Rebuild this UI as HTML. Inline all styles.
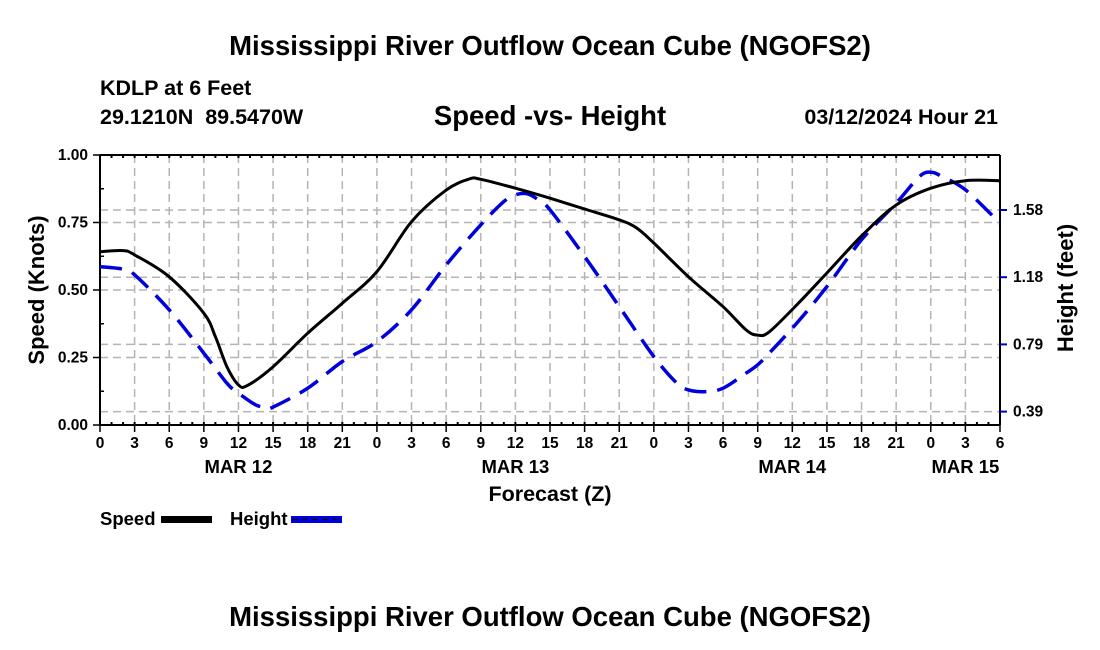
<!DOCTYPE html>
<html><head><meta charset="utf-8">
<style>
html,body{margin:0;padding:0;background:#fff;}
svg{display:block;font-family:"Liberation Sans",Arial,sans-serif;font-weight:bold;}
</style></head>
<body>
<svg id="chart" width="1100" height="650" viewBox="0 0 1100 650" xmlns="http://www.w3.org/2000/svg">
<rect width="1100" height="650" fill="#fff"/>
<text x="550" y="55" text-anchor="middle" font-size="27.5">Mississippi River Outflow Ocean Cube (NGOFS2)</text>
<text x="100" y="95" font-size="21.5">KDLP at 6 Feet</text>
<text x="100" y="124" font-size="21.5">29.1210N&#160; 89.5470W</text>
<text x="550" y="125" text-anchor="middle" font-size="27.5">Speed -vs- Height</text>
<text x="998" y="124" text-anchor="end" font-size="21.5">03/12/2024 Hour 21</text>
<g id="grid"></g>
<g id="axes"></g>
<g id="series"></g>
<text transform="translate(44,290) rotate(-90)" text-anchor="middle" font-size="22">Speed (Knots)</text>
<text transform="translate(1073,288) rotate(-90)" text-anchor="middle" font-size="22">Height (feet)</text>
<text x="550" y="501" text-anchor="middle" font-size="21.5">Forecast (Z)</text>
<g>
<text x="100" y="525" font-size="18.5">Speed</text>
<rect x="161" y="516" width="51" height="7" fill="#000"/>
<text x="230" y="525" font-size="18.5">Height</text>
<rect x="291" y="516" width="51" height="7" fill="#0000dd"/>
<line x1="292" y1="519.5" x2="341" y2="519.5" stroke="#000" stroke-width="1" stroke-dasharray="6,4"/>
</g>
<text x="550" y="626" text-anchor="middle" font-size="27.5">Mississippi River Outflow Ocean Cube (NGOFS2)</text>
</svg>
<script>
const speedHours = [0,2,3,6,9,10,11,12,12.8,15,18,21,24,27,30,32,33,36,39,42,45,46.5,48,51,54,56,57,58,60.5,63,66,69,72,75,78];
const speedValues = [0.642,0.646,0.63,0.549,0.414,0.327,0.216,0.148,0.147,0.216,0.34,0.451,0.568,0.753,0.87,0.911,0.91,0.877,0.84,0.80,0.76,0.73,0.674,0.549,0.438,0.352,0.333,0.345,0.45,0.563,0.70,0.815,0.877,0.905,0.905];
const heightHours = [0,2,3,6,9,11,12,13.5,14.5,15,18,21,24,27,30,33,35,36,37,38,39,42,45,48,50,51,52.5,54,56,57,58,60.5,63,66,69,71,72,73,75,78];
const heightValues = [1.243,1.228,1.195,0.99,0.736,0.56,0.502,0.433,0.417,0.42,0.531,0.687,0.804,0.99,1.253,1.488,1.624,1.663,1.67,1.634,1.576,1.302,1.009,0.716,0.56,0.521,0.511,0.531,0.619,0.668,0.736,0.921,1.126,1.40,1.615,1.77,1.796,1.77,1.693,1.498];
const xTickLabels = ["0","3","6","9","12","15","18","21","0","3","6","9","12","15","18","21","0","3","6","9","12","15","18","21","0","3","6"];
const dayLabels = ["MAR 12","MAR 13","MAR 14","MAR 15"];
const dayLabelHours = [12,36,60,75];
const speedTicks = [0,0.25,0.5,0.75,1.0];
const heightTicks = [0.3937,0.7874,1.1811,1.5748];
const heightTickLabels = ["0.39","0.79","1.18","1.58"];

const L=100,R=1000,T=155,B=425;
const xMax=78, hMin=0.3152, hMax=1.897;
const x = h => L + h/xMax*(R-L);
const yS = v => B - v*(B-T);
const yH = v => B - (v-hMin)/(hMax-hMin)*(B-T);
const NS="http://www.w3.org/2000/svg";
function mk(tag, attrs, parent){const e=document.createElementNS(NS,tag);for(const k in attrs)e.setAttribute(k,attrs[k]);parent.appendChild(e);return e;}
const grid=document.getElementById('grid'), axes=document.getElementById('axes'), series=document.getElementById('series');

for(let i=1;i<xTickLabels.length-1;i++){
  const g=mk('line',{x1:x(i*3),x2:x(i*3),y1:T,y2:B,stroke:'#b4b4b4','stroke-width':1.5,'stroke-dasharray':'8,5'},grid);
  
  
}
speedTicks.slice(1,-1).forEach(v=>{
  const g=mk('line',{x1:L,x2:R,y1:yS(v),y2:yS(v),stroke:'#b4b4b4','stroke-width':1.5,'stroke-dasharray':'8,5'},grid);
  
  
});
heightTicks.forEach(v=>{
  const g=mk('line',{x1:L,x2:R,y1:yH(v),y2:yH(v),stroke:'#b4b4b4','stroke-width':1.5,'stroke-dasharray':'8,5'},grid);
  
  
});

[[L,T,R,T],[L,B,R,B],[L,T,L,B],[R,T,R,B]].forEach(a=>{
  const l=mk('line',{x1:a[0],y1:a[1],x2:a[2],y2:a[3],stroke:'#000','stroke-width':2},axes);
  
  
});
for(let h=1;h<xMax;h++){
  const t1=mk('line',{x1:x(h),x2:x(h),y1:T,y2:T+3,stroke:'#000','stroke-width':2},axes);
  
  
  const t2=mk('line',{x1:x(h),x2:x(h),y1:B-3,y2:B,stroke:'#000','stroke-width':2},axes);
  
  
}
xTickLabels.forEach((lab,i)=>{
  const tk=mk('line',{x1:x(i*3),x2:x(i*3),y1:B,y2:B+7,stroke:'#000','stroke-width':1.5},axes);
  
  
  const t=mk('text',{x:x(i*3),y:B+23,'text-anchor':'middle','font-size':15.5},axes);
  t.textContent=lab;
  
  
});
dayLabels.forEach((d,i)=>{
  const t=mk('text',{x:x(dayLabelHours[i]),y:473,'text-anchor':'middle','font-size':18.5},axes);
  t.textContent=d;
  
  
});
speedTicks.forEach(v=>{
  const tk=mk('line',{x1:L-7,x2:L,y1:yS(v),y2:yS(v),stroke:'#000','stroke-width':1.5},axes);
  
  
  const t=mk('text',{x:L-12,y:yS(v)+5,'text-anchor':'end','font-size':15.5},axes);
  t.textContent=v.toFixed(2);
  
  
});
for(let v=0.125;v<1;v+=0.25){
  const tk=mk('line',{x1:L,x2:L+4,y1:yS(v),y2:yS(v),stroke:'#000','stroke-width':1.5},axes);
  
  
}
heightTicks.forEach((v,i)=>{
  const tk=mk('line',{x1:R,x2:R+7,y1:yH(v),y2:yH(v),stroke:'#0000cc','stroke-width':2},axes);
  
  
  const t=mk('text',{x:R+13,y:yH(v)+5,'font-size':15.5},axes);
  t.textContent=heightTickLabels[i];
  
  
});

function smoothPath(pts){
  let d=`M${pts[0][0].toFixed(1)},${pts[0][1].toFixed(1)}`;
  for(let i=0;i<pts.length-1;i++){
    const p0=pts[i-1]||pts[i],p1=pts[i],p2=pts[i+1],p3=pts[i+2]||p2;
    const c1=[p1[0]+(p2[0]-p0[0])/6,p1[1]+(p2[1]-p0[1])/6];
    const c2=[p2[0]-(p3[0]-p1[0])/6,p2[1]-(p3[1]-p1[1])/6];
    d+=`C${c1[0].toFixed(1)},${c1[1].toFixed(1)} ${c2[0].toFixed(1)},${c2[1].toFixed(1)} ${p2[0].toFixed(1)},${p2[1].toFixed(1)}`;
  }
  return d;
}
const hp=mk('path',{d:smoothPath(heightHours.map((h,i)=>[x(h),yH(heightValues[i])])),fill:'none',stroke:'#0000dd','stroke-width':3.5,'stroke-dasharray':'22,11'},series);


const sp=mk('path',{d:smoothPath(speedHours.map((h,i)=>[x(h),yS(speedValues[i])])),fill:'none',stroke:'#000','stroke-width':3},series);


</script>
</body></html>
